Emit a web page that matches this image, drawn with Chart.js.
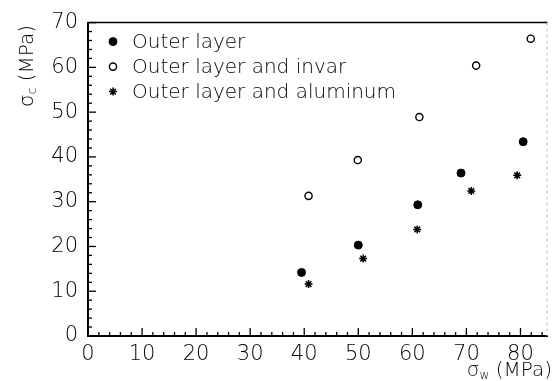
<!DOCTYPE html>
<html>
<head>
<meta charset="utf-8">
<script src="https://cdn.jsdelivr.net/npm/chart.js@4/dist/chart.umd.min.js"></script>
<style>
  html, body { margin: 0; padding: 0; background: #fff; }
  #wrap { width: 553px; height: 381px; }
</style>
</head>
<body>
<div id="wrap"><canvas id="stressChart"></canvas></div>
<script>
// axis tick labels
const xTicks = [0, 10, 20, 30, 40, 50, 60, 70, 80];
const yTicks = [0, 10, 20, 30, 40, 50, 60, 70];

// sigma_w vs sigma_c (MPa) for each specimen type
const outerX = [39.5, 50.0, 61.0, 69.0, 80.5];
const outerY = [14.2, 20.3, 29.3, 36.4, 43.4];
const invarX = [40.8, 49.9, 61.3, 71.8, 81.9];
const invarY = [31.3, 39.3, 48.9, 60.4, 66.4];
const aluX = [40.8, 50.9, 60.9, 70.9, 79.4];
const aluY = [11.6, 17.3, 23.8, 32.4, 35.9];

const seriesLabels = ["Outer layer", "Outer layer and invar", "Outer layer and aluminum"];

const FONT = "'DejaVu Sans', sans-serif";
const WEIGHT = "200";
const INK = "#000";

function toPoints(xs, ys) {
  return xs.map((x, i) => ({ x: x, y: ys[i] }));
}

// inward major/minor ticks + top and right frame lines
const frameTicks = {
  id: "frameTicks",
  afterDraw(chart) {
    const { ctx, chartArea: a, scales: { x, y } } = chart;
    ctx.save();
    ctx.strokeStyle = "#000";
    ctx.lineWidth = 1.5;
    ctx.beginPath();
    ctx.moveTo(a.left, a.top);
    ctx.lineTo(a.right, a.top);
    ctx.stroke();

    ctx.strokeStyle = "#bbb";
    ctx.lineWidth = 1;
    ctx.setLineDash([3, 3]);
    ctx.beginPath();
    ctx.moveTo(a.right - 0.5, a.top);
    ctx.lineTo(a.right - 0.5, a.bottom);
    ctx.stroke();
    ctx.setLineDash([]);

    ctx.strokeStyle = "#000";
    ctx.lineWidth = 1.3;
    for (let v = 0; v <= 84; v += 2) {
      const px = x.getPixelForValue(v);
      const len = v % 10 === 0 ? 8 : 4;
      ctx.beginPath();
      ctx.moveTo(px, a.bottom);
      ctx.lineTo(px, a.bottom - len);
      ctx.stroke();
    }
    for (let v = 0; v <= 70; v += 2) {
      const py = y.getPixelForValue(v);
      const len = v % 10 === 0 ? 8 : 4;
      ctx.beginPath();
      ctx.moveTo(a.left, py);
      ctx.lineTo(a.left + len, py);
      ctx.stroke();
    }
    ctx.restore();
  }
};

// legend inside the plot, top left
const innerLegend = {
  id: "innerLegend",
  afterDraw(chart) {
    const { ctx, chartArea: a } = chart;
    ctx.save();
    ctx.font = WEIGHT + " 20px " + FONT;
    ctx.textBaseline = "middle";
    ctx.textAlign = "left";
    chart.data.datasets.forEach((ds, i) => {
      const cx = a.left + 25;
      const cy = a.top + 19 + i * 25;
      ctx.fillStyle = ds.pointBackgroundColor;
      ctx.strokeStyle = ds.pointBorderColor;
      ctx.lineWidth = ds.pointBorderWidth;
      Chart.helpers.drawPoint(ctx, {
        pointStyle: ds.pointStyle,
        radius: ds.pointRadius,
        borderWidth: ds.pointBorderWidth,
        rotation: 0
      }, cx, cy);
      ctx.fillStyle = INK;
      ctx.fillText(ds.label, a.left + 44, cy + 1);
    });
    ctx.restore();
  }
};

// axis titles with subscripts
function drawSubTitle(ctx, main, sub, rest, x, y) {
  ctx.font = WEIGHT + " 20px " + FONT;
  ctx.fillText(main, x, y);
  x += ctx.measureText(main).width;
  ctx.font = WEIGHT + " 12px " + FONT;
  ctx.fillText(sub, x, y + 3);
  x += ctx.measureText(sub).width;
  ctx.font = WEIGHT + " 20px " + FONT;
  ctx.fillText(rest, x, y);
}

function subTitleWidth(ctx, main, sub, rest) {
  ctx.font = WEIGHT + " 20px " + FONT;
  let w = ctx.measureText(main + rest).width;
  ctx.font = WEIGHT + " 12px " + FONT;
  return w + ctx.measureText(sub).width;
}

const axisTitles = {
  id: "axisTitles",
  afterDraw(chart) {
    const { ctx } = chart;
    ctx.save();
    ctx.fillStyle = INK;
    ctx.textBaseline = "alphabetic";
    ctx.textAlign = "left";

    const wx = subTitleWidth(ctx, "σ", "w", " (MPa)");
    drawSubTitle(ctx, "σ", "w", " (MPa)", 552 - wx, 376);

    const wy = subTitleWidth(ctx, "σ", "c", " (MPa)");
    ctx.translate(33, 66);
    ctx.rotate(-Math.PI / 2);
    drawSubTitle(ctx, "σ", "c", " (MPa)", -wy / 2, 0);
    ctx.restore();
  }
};

const ctx = document.getElementById("stressChart").getContext("2d");

new Chart(ctx, {
  type: "scatter",
  data: {
    datasets: [
      {
        label: seriesLabels[0],
        data: toPoints(outerX, outerY),
        pointStyle: "circle",
        pointRadius: 4,
        pointBorderWidth: 1,
        pointBackgroundColor: "#000",
        pointBorderColor: "#000"
      },
      {
        label: seriesLabels[1],
        data: toPoints(invarX, invarY),
        pointStyle: "circle",
        pointRadius: 3.6,
        pointBorderWidth: 1.4,
        pointBackgroundColor: "#fff",
        pointBorderColor: "#000"
      },
      {
        label: seriesLabels[2],
        data: toPoints(aluX, aluY),
        pointStyle: "star",
        pointRadius: 4,
        pointBorderWidth: 1.5,
        pointBackgroundColor: "#000",
        pointBorderColor: "#000"
      }
    ]
  },
  options: {
    responsive: true,
    maintainAspectRatio: false,
    animation: false,
    layout: { padding: { top: 21, right: 1, bottom: 0, left: 0 } },
    plugins: {
      legend: { display: false },
      tooltip: { enabled: false }
    },
    scales: {
      x: {
        type: "linear",
        min: 0,
        max: 85,
        afterBuildTicks: s => { s.ticks = xTicks.map(v => ({ value: v })); },
        afterFit: s => { s.height = 45; },
        grid: { display: false, drawTicks: false },
        border: { display: true, color: "#000", width: 2 },
        ticks: { padding: 6, color: INK, font: { family: FONT, size: 21, weight: WEIGHT } }
      },
      y: {
        type: "linear",
        min: 0,
        max: 70,
        afterBuildTicks: s => { s.ticks = yTicks.map(v => ({ value: v })); },
        afterFit: s => { s.width = 88; },
        grid: { display: false, drawTicks: false },
        border: { display: true, color: "#000", width: 2 },
        ticks: { padding: 10, color: INK, font: { family: FONT, size: 21, weight: WEIGHT } }
      }
    }
  },
  plugins: [frameTicks, innerLegend, axisTitles]
});
</script>
</body>
</html>
